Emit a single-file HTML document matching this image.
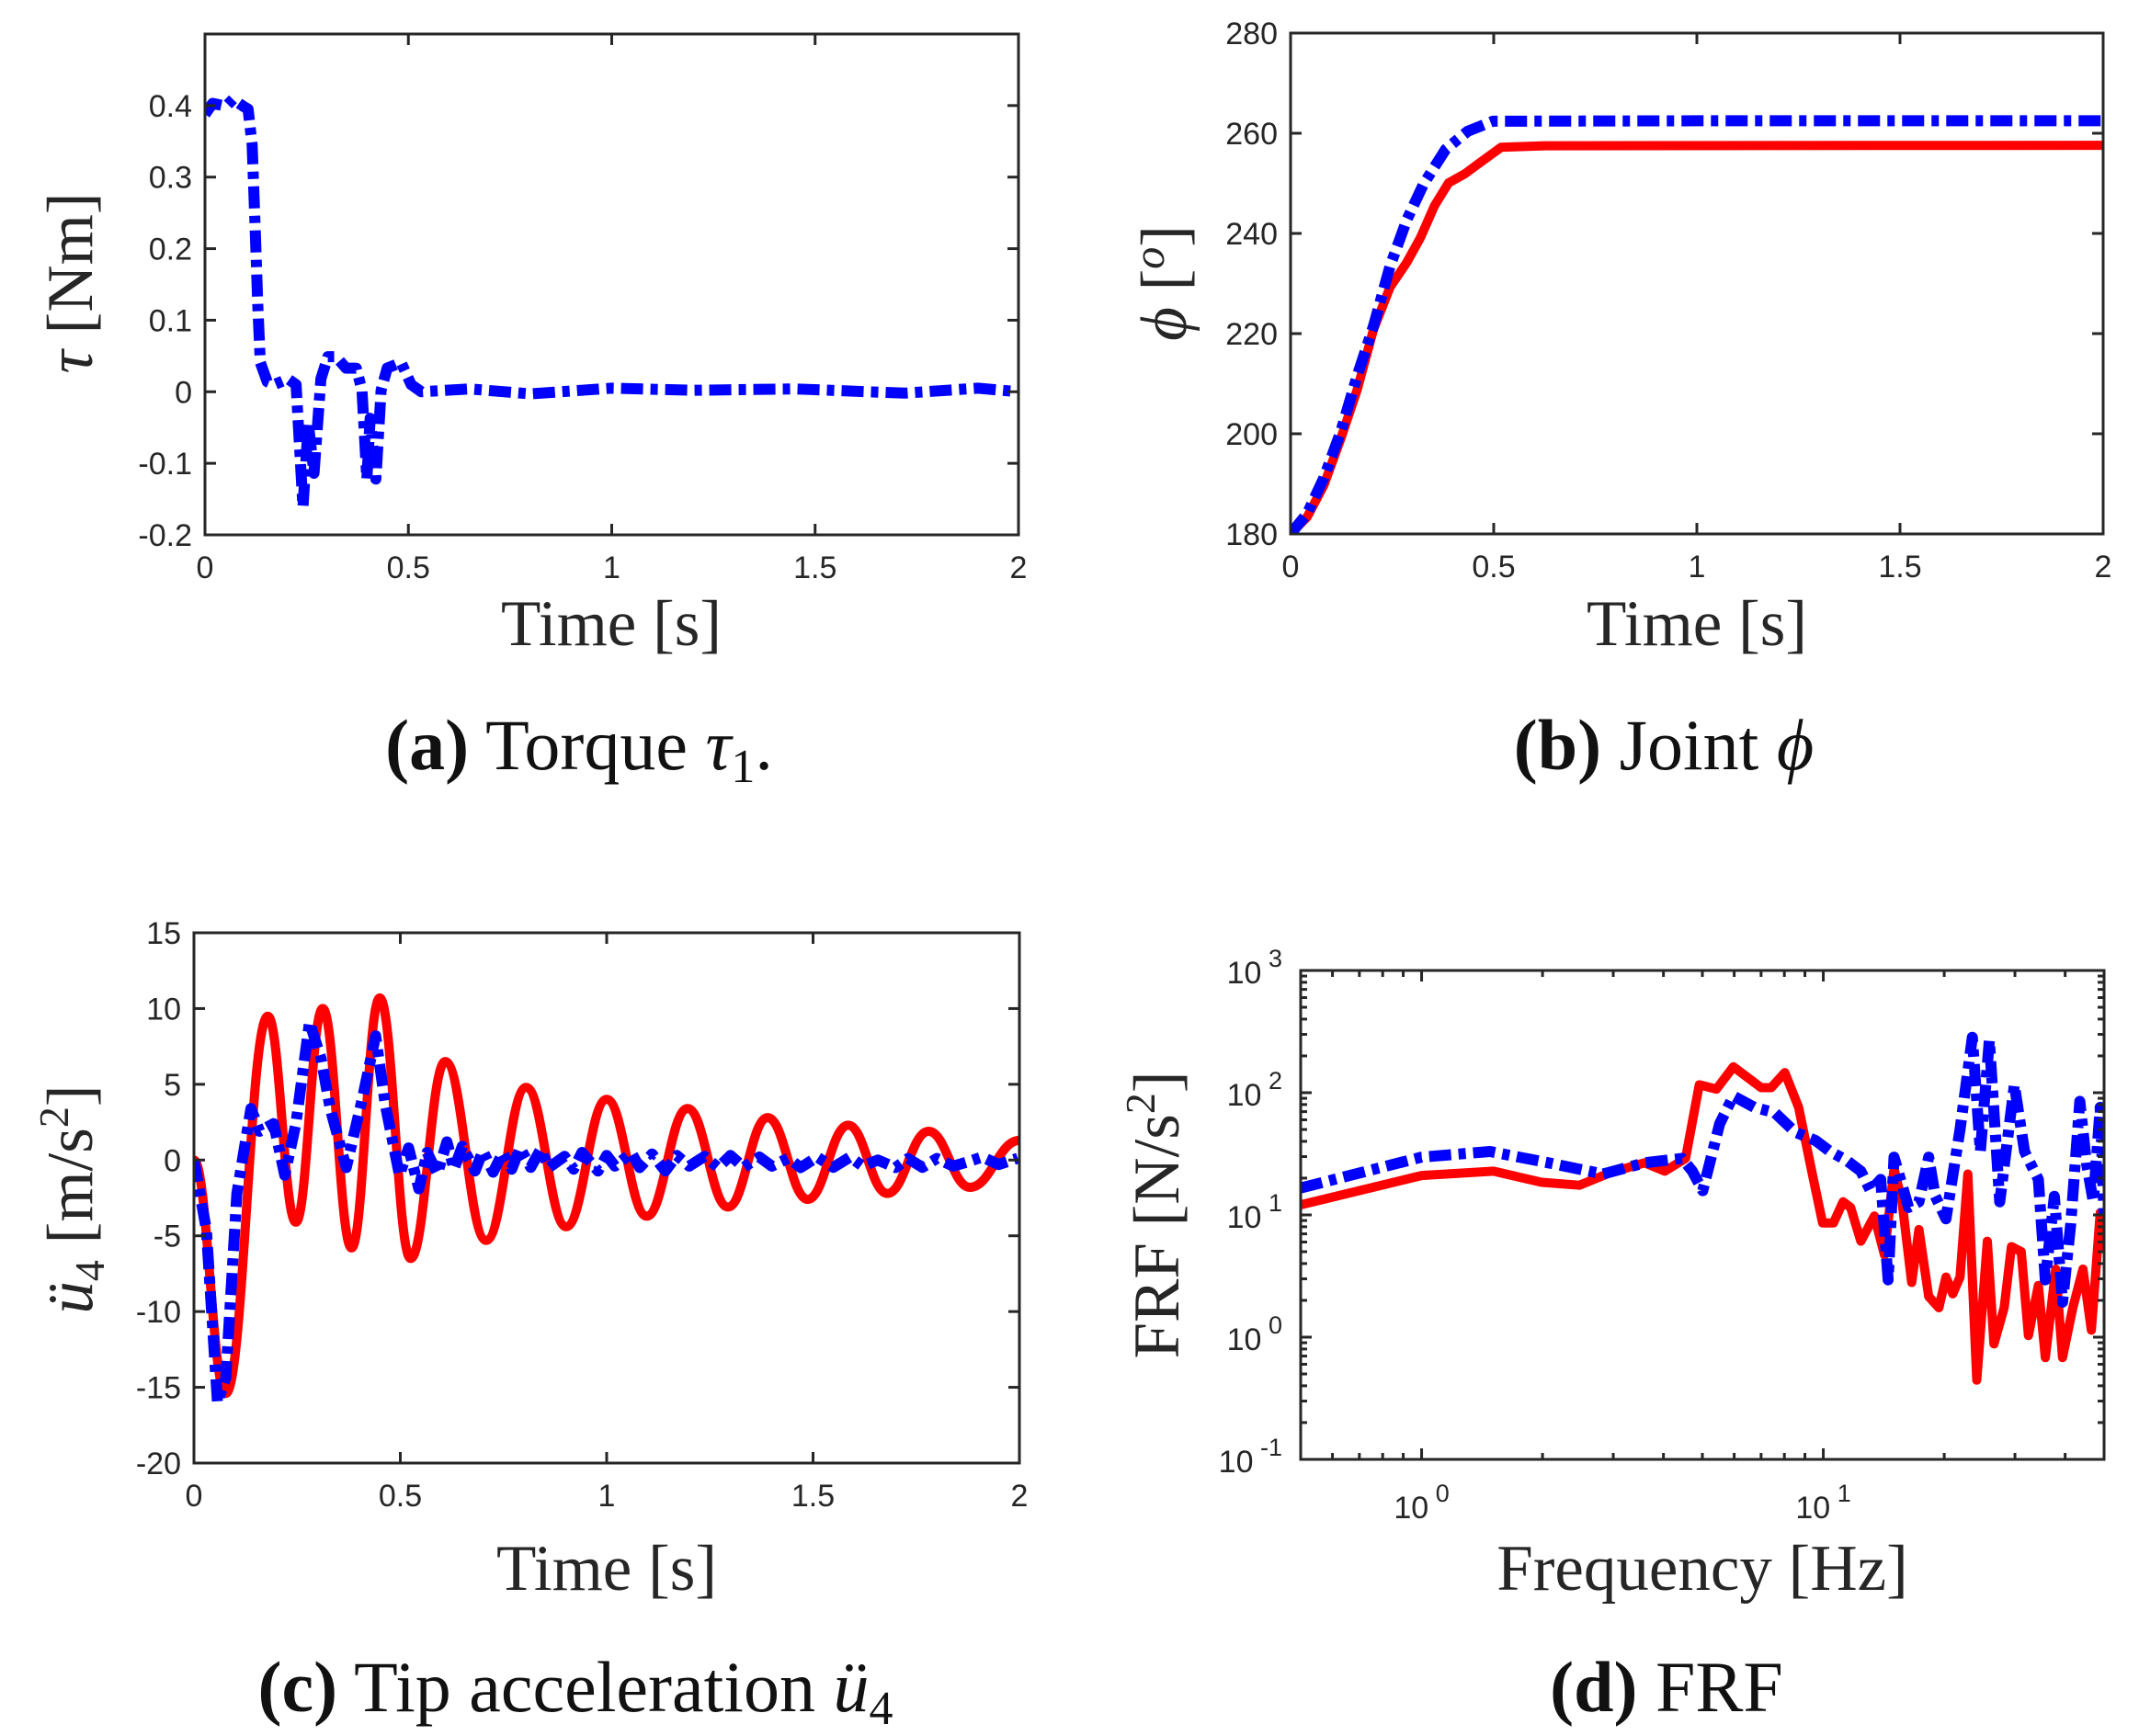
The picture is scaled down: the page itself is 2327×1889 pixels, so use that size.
<!DOCTYPE html>
<html><head><meta charset="utf-8">
<style>
html,body{margin:0;padding:0;background:#fff;}
svg{display:block;}
.tick{font-family:"Liberation Sans",sans-serif;font-size:34px;fill:#262626;}
.lab{font-family:"Liberation Serif",serif;font-size:71px;fill:#262626;}
.cap{font-family:"Liberation Serif",serif;font-size:78px;fill:#111;}
</style></head>
<body>
<svg id="fig" width="2327" height="1889" viewBox="0 0 2327 1889" xmlns="http://www.w3.org/2000/svg">
  <text class="lab" x="665" y="702" text-anchor="middle">Time [s]</text>
  <text class="lab" transform="translate(100,308) rotate(-90)" text-anchor="middle"><tspan font-style="italic">τ</tspan> [Nm]</text>
  <text class="cap" x="630" y="837" text-anchor="middle"><tspan font-weight="bold">(a)</tspan> Torque <tspan font-style="italic">τ</tspan><tspan font-size="52" dy="14">1</tspan><tspan dy="-14">.</tspan></text>

  <text class="lab" x="1846" y="702" text-anchor="middle">Time [s]</text>
  <text class="lab" transform="translate(1290,308) rotate(-90)" text-anchor="middle"><tspan font-style="italic">ϕ</tspan> [<tspan font-style="italic" font-size="48" dy="-24">o</tspan><tspan dy="24">]</tspan></text>
  <text class="cap" x="1810" y="837" text-anchor="middle"><tspan font-weight="bold">(b)</tspan> Joint <tspan font-style="italic">ϕ</tspan></text>

  <text class="lab" x="660" y="1730" text-anchor="middle">Time [s]</text>
  <text class="lab" transform="translate(100,1305) rotate(-90)" text-anchor="middle"><tspan font-style="italic">ü</tspan><tspan font-size="46" dy="13">4</tspan><tspan dy="-13"> [m/s</tspan><tspan font-size="46" dy="-26">2</tspan><tspan dy="26">]</tspan></text>
  <text class="cap" x="626" y="1862" text-anchor="middle"><tspan font-weight="bold">(c)</tspan> Tip acceleration <tspan font-style="italic">ü</tspan><tspan font-size="52" dy="14">4</tspan></text>

  <text class="lab" x="1852" y="1730" text-anchor="middle">Frequency [Hz]</text>
  <text class="lab" transform="translate(1282,1322) rotate(-90)" text-anchor="middle">FRF [N/s<tspan font-size="46" dy="-26">2</tspan><tspan dy="26">]</tspan></text>
  <text class="cap" x="1813" y="1862" text-anchor="middle"><tspan font-weight="bold">(d)</tspan> FRF</text>
</svg>
<script>
// ---------- data ----------
const torqueT = [0,0.019,0.052,0.069,0.094,0.106,0.116,0.123,0.130,0.136,0.153,0.170,0.204,0.224,0.241,0.254,0.268,0.285,0.302,0.322,0.347,0.372,0.386,0.398,0.406,0.420,0.433,0.448,0.482,0.507,0.532,0.65,0.8,1.0,1.2,1.45,1.72,1.9,2.0];
const torqueV = [0.388,0.403,0.399,0.409,0.399,0.395,0.345,0.236,0.119,0.041,0.014,0.010,0.018,0.010,-0.161,-0.044,-0.114,0.018,0.049,0.049,0.033,0.033,0.002,-0.122,-0.037,-0.122,0.002,0.033,0.041,0.010,0.0,0.004,-0.003,0.005,0.002,0.004,-0.002,0.005,0.0];

const jointBlueT = [0,0.041,0.082,0.123,0.164,0.204,0.245,0.286,0.327,0.382,0.436,0.498,1.0,2.0];
const jointBlueV = [180,184.1,191.2,200.3,211.6,221.5,233.5,242.7,249.8,256.8,260.4,262.4,262.5,262.5];
const jointRedT = [0,0.041,0.082,0.123,0.164,0.204,0.245,0.286,0.320,0.354,0.389,0.429,0.464,0.518,0.627,2.0];
const jointRedV = [180,183.4,189.7,198.9,208.8,220.8,229.3,234.2,239.2,245.5,250.1,251.9,254.0,257.2,257.5,257.6];

const accRedT = [0,0.077,0.179,0.247,0.312,0.382,0.45,0.525,0.609,0.708,0.805,0.902,1.0,1.097,1.196,1.294,1.39,1.487,1.585,1.68,1.78,1.88,2.0];
const accRedV = [0,-15.4,9.5,-4.1,10,-5.8,10.7,-6.5,6.5,-5.3,4.8,-4.4,4.0,-3.7,3.4,-3.1,2.8,-2.6,2.3,-2.2,1.9,-1.8,1.3];
const accBlueT = [0,0.03,0.057,0.077,0.104,0.138,0.159,0.193,0.22,0.247,0.28,0.308,0.33,0.369,0.41,0.44,0.464,0.498,0.52,0.545,0.565,0.59,0.613,0.63,0.65,0.681,0.70,0.725,0.748,0.77,0.79,0.816,0.84,0.86,0.898,0.92,0.94,0.979,1.0,1.02,1.06,1.08,1.11,1.142,1.17,1.2,1.237,1.27,1.30,1.332,1.37,1.40,1.44,1.47,1.51,1.549,1.59,1.62,1.657,1.70,1.73,1.765,1.80,1.84,1.874,1.91,1.95,1.996];
const accBlueV = [0,-4.6,-16,-14.4,-2.2,3.4,1.9,2.4,-1,2.4,9.1,6.7,3.4,-0.5,4.3,8.2,3.6,-1,0.8,-1.9,0.5,-0.9,1.2,-0.6,0.9,-0.72,0.6,-0.8,0.48,-0.6,0.8,-0.48,0.7,-0.5,0.24,-0.6,0.5,-0.72,0.3,-0.4,0.48,-0.5,0.4,-0.72,0.3,-0.4,0.24,-0.5,0.3,-0.48,0.2,-0.4,0.12,-0.5,0.2,-0.48,0.2,-0.4,0,-0.5,0.1,-0.48,0.1,-0.4,-0.12,0.2,-0.3,0.12];

const frfRedF = [0.5,1.0,1.51,1.99,2.47,2.94,3.59,4.03,4.54,4.91,5.42,5.97,7.0,7.42,8.02,8.68,9.39,9.96,10.6,11.2,11.7,12.4,13.4,14.2,15.0,15.7,16.6,17.3,18.3,19.4,20.2,21.0,21.9,22.9,24.1,25.6,26.6,28.2,29.4,31.1,32.4,34.3,35.7,37.9,39.4,41.8,44.3,46.5,48.9,50];
const frfRedV = [12.1,21,22.8,18.5,17.5,22.1,26.7,22.8,29,116,107,163,110,110,146,76,21.6,8.6,8.6,12.8,11.5,6.1,9.8,4.7,24,12.8,2.8,7.6,2.15,1.74,3.1,2.26,3.1,21.6,0.445,6.1,0.88,1.74,5.5,5.0,1.03,2.65,0.68,3.6,0.68,1.74,3.6,1.14,10.4,5.0];
const frfBlueF = [0.5,1.0,1.48,2.07,2.83,3.59,4.45,4.72,5.01,5.52,5.97,6.73,7.57,8.51,9.57,10.4,11.4,12.4,13.1,13.9,14.5,15.0,16.3,17.3,18.3,19.0,20.2,21.9,23.5,24.6,25.9,27.5,29.9,31.7,34.3,35.7,37.6,39.4,41.3,43.5,45.2,47.0,48.9,50];
const frfBlueV = [16.6,29.7,33,26.7,21.6,26.7,29,22.8,15.8,55.7,94,76,68.7,47.6,40.6,33,28.1,22.8,15.8,19.5,2.94,29.7,11.5,12.8,29.7,14.2,9.3,50,284,33,269,12.8,116,33,19.5,2.94,14.2,1.93,8.4,85,26.7,12.8,76,9.8];

const tickA = ['-0.2','-0.1','0','0.1','0.2','0.3','0.4'];
const tickB = ['180','200','220','240','260','280'];
const tickC = ['-20','-15','-10','-5','0','5','10','15'];
const tickT = ['0','0.5','1','1.5','2'];

// ---------- drawing ----------
const NS='http://www.w3.org/2000/svg';
const svg=document.getElementById('fig');
function mk(tag,attrs,parent){const e=document.createElementNS(NS,tag);for(const k in attrs)e.setAttribute(k,attrs[k]);(parent||svg).appendChild(e);return e;}
const AX='#262626';
function linScale(d0,d1,p0,p1){return v=>p0+(v-d0)/(d1-d0)*(p1-p0);}
function logScale(d0,d1,p0,p1){return v=>p0+(Math.log10(v)-Math.log10(d0))/(Math.log10(d1)-Math.log10(d0))*(p1-p0);}

function frame(g,L,T,R,B){
  const r=mk('rect',{x:L,y:T,width:R-L,height:B-T,fill:'none',stroke:AX,'stroke-width':3},g);
  
  
}
function tickMark(g,x1,y1,x2,y2){mk('line',{x1:x1,y1:y1,x2:x2,y2:y2,stroke:AX,'stroke-width':3},g);}

function linePath(g,xs,ys,sx,sy,style,name){
  let d='';
  for(let i=0;i<xs.length;i++){d+=(i?'L':'M')+sx(xs[i]).toFixed(1)+','+sy(ys[i]).toFixed(1);}
  const p=mk('path',Object.assign({d:d,fill:'none','stroke-linejoin':'round'},style),g);
  
  
}
function smoothPath(g,xs,ys,sx,sy,style,name){
  let d='M'+sx(xs[0]).toFixed(1)+','+sy(ys[0]).toFixed(1);
  for(let i=1;i<xs.length;i++){
    const x0=sx(xs[i-1]),y0=sy(ys[i-1]),x1=sx(xs[i]),y1=sy(ys[i]);
    const dx=(x1-x0)*0.42;
    d+='C'+(x0+dx).toFixed(1)+','+y0.toFixed(1)+' '+(x1-dx).toFixed(1)+','+y1.toFixed(1)+' '+x1.toFixed(1)+','+y1.toFixed(1);
  }
  const p=mk('path',Object.assign({d:d,fill:'none'},style),g);
  
  
}
const RED={stroke:'#ff0000','stroke-width':10};
const BLUE={stroke:'#0000ff','stroke-width':12,'stroke-dasharray':'24 8 8 8'};

function linearPanel(id,L,T,R,B,y0,y1,yticks,clipName){
  const g=mk('g',{});
  
  
  const sx=linScale(0,2,L,R), sy=linScale(y0,y1,B,T);
  const cp=mk('clipPath',{id:clipName},g); mk('rect',{x:L,y:T,width:R-L,height:B-T},cp);
  const pg=mk('g',{'clip-path':'url(#'+clipName+')'},g);
  tickT.forEach(t=>{const x=sx(parseFloat(t));tickMark(g,x,B,x,B-12);tickMark(g,x,T,x,T+12);
    const tx=mk('text',{x:x,y:B+47,'text-anchor':'middle',class:'tick'},g);tx.textContent=t;
    
    });
  yticks.forEach(t=>{const y=sy(parseFloat(t));tickMark(g,L,y,L+12,y);tickMark(g,R,y,R-12,y);
    const tx=mk('text',{x:L-14,y:y+12,'text-anchor':'end',class:'tick'},g);tx.textContent=t;
    
    });
  frame(g,L,T,R,B);
  return {g:pg,sx:sx,sy:sy};
}

const pa=linearPanel('panel-a-torque',223,37,1108,582,-0.2,0.5,tickA,'ca');
linePath(pa.g,torqueT,torqueV,pa.sx,pa.sy,BLUE,'torque-line');

const pb=linearPanel('panel-b-joint',1404,36,2288,581,180,280,tickB,'cb');
linePath(pb.g,jointRedT,jointRedV,pb.sx,pb.sy,RED,'joint-red-line');
linePath(pb.g,jointBlueT,jointBlueV,pb.sx,pb.sy,BLUE,'joint-blue-line');

const pc=linearPanel('panel-c-accel',211,1015,1109,1592,-20,15,tickC,'cc');
smoothPath(pc.g,accRedT,accRedV,pc.sx,pc.sy,RED,'accel-red-line');
linePath(pc.g,accBlueT,accBlueV,pc.sx,pc.sy,BLUE,'accel-blue-line');

(function(){
  const L=1415,T=1056,R=2289,B=1588;
  const g=mk('g',{});
  
  
  const sx=logScale(0.5,50,L,R), sy=logScale(0.1,1000,B,T);
  const cp=mk('clipPath',{id:'cd'},g); mk('rect',{x:L,y:T,width:R-L,height:B-T},cp);
  const pg=mk('g',{'clip-path':'url(#cd)'},g);
  for(let dec=-1;dec<=1;dec++){for(let m=1;m<10;m++){const f=m*Math.pow(10,dec);if(f<0.5||f>50)continue;
    const x=sx(f),len=m===1?12:7;tickMark(g,x,B,x,B-len);tickMark(g,x,T,x,T+len);}}
  [[1,'0'],[10,'1']].forEach(([f,e])=>{const x=sx(f);
    const tx=mk('text',{x:x,y:B+64,'text-anchor':'middle',class:'tick'},g);
    
    
    tx.innerHTML='10<tspan font-size="27" dy="-18"> '+e+'</tspan>';});
  for(let dec=-1;dec<=2;dec++){for(let m=1;m<10;m++){const v=m*Math.pow(10,dec);
    const y=sy(v),len=m===1?12:7;tickMark(g,L,y,L+len,y);tickMark(g,R,y,R-len,y);}}
  [[0.1,'-1'],[1,'0'],[10,'1'],[100,'2'],[1000,'3']].forEach(([v,e])=>{const y=sy(v);
    const tx=mk('text',{x:L-20,y:y+14,'text-anchor':'end',class:'tick'},g);
    
    
    tx.innerHTML='10<tspan font-size="27" dy="-18"> '+e+'</tspan>';});
  frame(g,L,T,R,B);
  linePath(pg,frfRedF,frfRedV,sx,sy,RED,'frf-red-line');
  linePath(pg,frfBlueF,frfBlueV,sx,sy,BLUE,'frf-blue-line');
})();
</script>
</body></html>
